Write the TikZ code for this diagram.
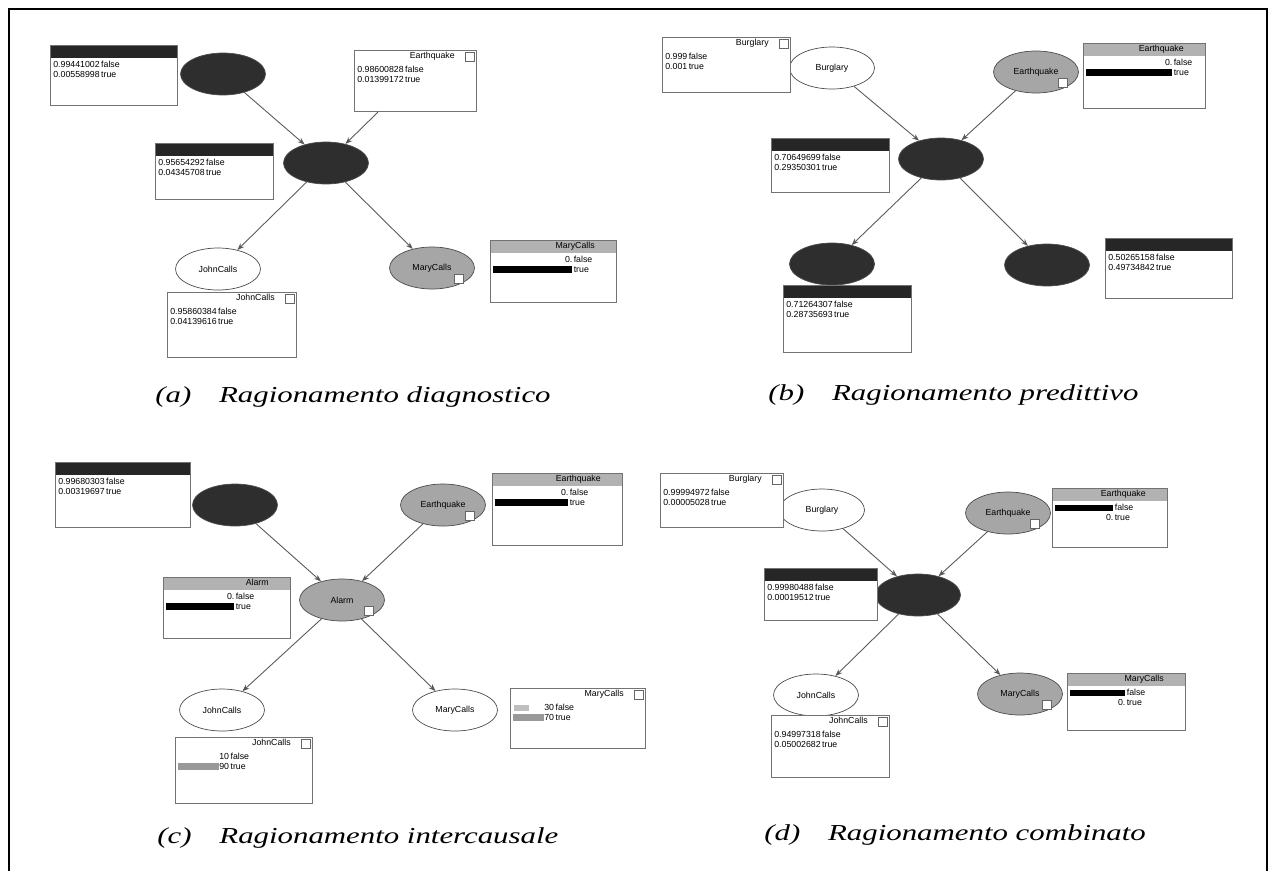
\documentclass[tikz,border=0pt]{standalone}
\usepackage{fontspec}
\setmainfont{Liberation Serif}
\setsansfont{Liberation Sans}
\usetikzlibrary{shapes.geometric,arrows.meta}

% probability table rows and bars
\newcommand{\pvals}[4]{\begin{tabular}{@{}r@{\,}l@{}}#1&#2\\#3&#4\end{tabular}}
\newcommand{\pbar}[1]{\rule[-0.4pt]{#1}{3.6pt}}

\tikzset{
  dagnode/.style={ellipse, draw=black!70, minimum width=1.7cm, minimum height=0.84cm, inner sep=0pt, font=\fontsize{5}{6}\sffamily},
  hidnode/.style={dagnode, fill=black!82},
  obsnode/.style={dagnode, fill=black!35},
  freenode/.style={dagnode, fill=white},
  pbox/.style n args={3}{draw=black!55, fill=white, line width=0.6pt, anchor=north west, inner sep=0pt,
    minimum width=#1*0.02cm, minimum height=#2*0.02cm,
    path picture={\fill[#3] (path picture bounding box.north west) rectangle ([yshift=-0.24cm]path picture bounding box.north east);}},
  rows/.style={anchor=north west, inner sep=0pt, font=\fontsize{5}{5.6}\sffamily},
  boxtitle/.style={anchor=north east, inner sep=0pt, font=\fontsize{5}{6}\sffamily},
  icon/.style={draw=black!60, fill=white, minimum size=0.18cm, inner sep=0pt},
  link/.style={draw=black!65, line width=0.5pt, -{Stealth[length=4pt,width=3pt]}},
  capt/.style={anchor=west, inner sep=0pt, xscale=1.35, font=\fontsize{13}{15}\selectfont\itshape}
}

\begin{document}
\begin{tikzpicture}[x=0.02cm,y=-0.02cm]
\fill[white] (0,0) rectangle (1276,870);
\useasboundingbox (0,0) rectangle (1276,870);

% frame
\draw[line width=1.3pt] (9,875) -- (9,9) -- (1267,9) -- (1267,875);

% (a) diagnostic
\node[hidnode] (aB) at (223,74) {};
\node[hidnode] (aA) at (326,163) {};
\node[freenode] (aJ) at (218,269) {JohnCalls};
\node[obsnode] (aM) at (432,268) {MaryCalls};
\node[icon] (aMicon) at ([shift={(-3,-4)}]aM.south east) {};

\node[pbox={127}{60}{black!85}] (aBbox) at (50,45) {};
\node[rows] (aBrows) at ([shift={(3,15)}]aBbox.north west) {\pvals{0.99441002}{false}{0.00558998}{true}};
\node[pbox={122}{61}{white}] (aEbox) at (354,50) {};
\node[icon] (aEicon) at ([shift={(-7,7)}]aEbox.north east) {};
\node[boxtitle] (aEtitle) at ([shift={(-22,2)}]aEbox.north east) {Earthquake};
\node[rows] (aErows) at ([shift={(3,15)}]aEbox.north west) {\pvals{0.98600828}{false}{0.01399172}{true}};
\node[pbox={118}{56}{black!85}] (aAbox) at (155,143) {};
\node[rows] (aArows) at ([shift={(3,15)}]aAbox.north west) {\pvals{0.95654292}{false}{0.04345708}{true}};
\node[pbox={129}{65}{white}] (aJbox) at (167,292) {};
\node[icon] (aJicon) at ([shift={(-7,7)}]aJbox.north east) {};
\node[boxtitle] (aJtitle) at ([shift={(-22,2)}]aJbox.north east) {JohnCalls};
\node[rows] (aJrows) at ([shift={(3,15)}]aJbox.north west) {\pvals{0.95860384}{false}{0.04139616}{true}};
\node[pbox={126}{62}{black!30}] (aMbox) at (490,240) {};
\node[boxtitle] (aMtitle) at ([shift={(-22,2)}]aMbox.north east) {MaryCalls};
\node[rows] (aMrows) at ([shift={(3,15)}]aMbox.north west) {\pvals{0.}{false}{\pbar{1.58cm}}{true}};

\draw[link] (aB) -- (aA);
\draw[link] ([xshift=0.48cm]aEbox.south west) -- (aA);
\draw[link] (aA) -- (aJ);
\draw[link] (aA) -- (aM);

\node[capt] (acap) at (155,397) {(a)\hspace{0.9em}Ragionamento diagnostico};

% (b) predictive
\node[freenode] (bB) at (832,68) {Burglary};
\node[obsnode] (bE) at (1036,72) {Earthquake};
\node[icon] (bEicon) at ([shift={(-3,-4)}]bE.south east) {};
\node[hidnode] (bA) at (941,159) {};
\node[hidnode] (bJ) at (832,264) {};
\node[hidnode] (bM) at (1047,265) {};

\node[pbox={128}{55}{white}] (bBbox) at (662,37) {};
\node[icon] (bBicon) at ([shift={(-7,7)}]bBbox.north east) {};
\node[boxtitle] (bBtitle) at ([shift={(-22,2)}]bBbox.north east) {Burglary};
\node[rows] (bBrows) at ([shift={(3,15)}]bBbox.north west) {\pvals{0.999}{false}{0.001}{true}};
\node[pbox={122}{65}{black!30}] (bEbox) at (1083,43) {};
\node[boxtitle] (bEtitle) at ([shift={(-22,2)}]bEbox.north east) {Earthquake};
\node[rows] (bErows) at ([shift={(3,15)}]bEbox.north west) {\pvals{0.}{false}{\pbar{1.72cm}}{true}};
\node[pbox={118}{54}{black!85}] (bAbox) at (771,138) {};
\node[rows] (bArows) at ([shift={(3,15)}]bAbox.north west) {\pvals{0.70649699}{false}{0.29350301}{true}};
\node[pbox={128}{67}{black!85}] (bJbox) at (783,285) {};
\node[rows] (bJrows) at ([shift={(3,15)}]bJbox.north west) {\pvals{0.71264307}{false}{0.28735693}{true}};
\node[pbox={127}{60}{black!85}] (bMbox) at (1105,238) {};
\node[rows] (bMrows) at ([shift={(3,15)}]bMbox.north west) {\pvals{0.50265158}{false}{0.49734842}{true}};

\draw[link] (bB) -- (bA);
\draw[link] (bE) -- (bA);
\draw[link] (bA) -- (bJ);
\draw[link] (bA) -- (bM);

\node[capt] (bcap) at (768,395) {(b)\hspace{0.9em}Ragionamento predittivo};

% (c) intercausal
\node[hidnode] (cB) at (235,505) {};
\node[obsnode] (cE) at (443,505) {Earthquake};
\node[icon] (cEicon) at ([shift={(-3,-4)}]cE.south east) {};
\node[obsnode] (cA) at (342,600) {Alarm};
\node[icon] (cAicon) at ([shift={(-3,-4)}]cA.south east) {};
\node[freenode] (cJ) at (222,710) {JohnCalls};
\node[freenode] (cM) at (455,710) {MaryCalls};

\node[pbox={135}{65}{black!85}] (cBbox) at (55,462) {};
\node[rows] (cBrows) at ([shift={(3,15)}]cBbox.north west) {\pvals{0.99680303}{false}{0.00319697}{true}};
\node[pbox={130}{72}{black!30}] (cEbox) at (492,473) {};
\node[boxtitle] (cEtitle) at ([shift={(-22,2)}]cEbox.north east) {Earthquake};
\node[rows] (cErows) at ([shift={(3,15)}]cEbox.north west) {\pvals{0.}{false}{\pbar{1.46cm}}{true}};
\node[pbox={127}{61}{black!30}] (cAbox) at (163,577) {};
\node[boxtitle] (cAtitle) at ([shift={(-22,2)}]cAbox.north east) {Alarm};
\node[rows] (cArows) at ([shift={(3,15)}]cAbox.north west) {\pvals{0.}{false}{\pbar{1.36cm}}{true}};
\node[pbox={137}{66}{white}] (cJbox) at (175,737) {};
\node[icon] (cJicon) at ([shift={(-7,7)}]cJbox.north east) {};
\node[boxtitle] (cJtitle) at ([shift={(-22,2)}]cJbox.north east) {JohnCalls};
\node[rows] (cJrows) at ([shift={(3,15)}]cJbox.north west) {\pvals{10}{false}{{\color{black!40}\pbar{0.82cm}}90}{true}};
\node[pbox={135}{60}{white}] (cMbox) at (510,688) {};
\node[icon] (cMicon) at ([shift={(-7,7)}]cMbox.north east) {};
\node[boxtitle] (cMtitle) at ([shift={(-22,2)}]cMbox.north east) {MaryCalls};
\node[rows] (cMrows) at ([shift={(3,15)}]cMbox.north west) {\pvals{{\color{black!25}\pbar{0.3cm}}\hspace{0.3cm}30}{false}{{\color{black!40}\pbar{0.62cm}}70}{true}};

\draw[link] (cB) -- (cA);
\draw[link] (cE) -- (cA);
\draw[link] (cA) -- (cJ);
\draw[link] (cA) -- (cM);

\node[capt] (ccap) at (157,838) {(c)\hspace{0.9em}Ragionamento intercausale};

% (d) combined
\node[freenode] (dB) at (822,510) {Burglary};
\node[obsnode] (dE) at (1008,513) {Earthquake};
\node[icon] (dEicon) at ([shift={(-3,-4)}]dE.south east) {};
\node[hidnode] (dA) at (918,595) {};
\node[freenode] (dJ) at (816,695) {JohnCalls};
\node[obsnode] (dM) at (1020,694) {MaryCalls};
\node[icon] (dMicon) at ([shift={(-3,-4)}]dM.south east) {};

\node[pbox={123}{54}{white}] (dBbox) at (660,473) {};
\node[icon] (dBicon) at ([shift={(-7,7)}]dBbox.north east) {};
\node[boxtitle] (dBtitle) at ([shift={(-22,2)}]dBbox.north east) {Burglary};
\node[rows] (dBrows) at ([shift={(3,15)}]dBbox.north west) {\pvals{0.99994972}{false}{0.00005028}{true}};
\node[pbox={115}{59}{black!30}] (dEbox) at (1052,488) {};
\node[boxtitle] (dEtitle) at ([shift={(-22,2)}]dEbox.north east) {Earthquake};
\node[rows] (dErows) at ([shift={(3,15)}]dEbox.north west) {\pvals{\pbar{1.16cm}}{false}{0.}{true}};
\node[pbox={113}{52}{black!85}] (dAbox) at (764,568) {};
\node[rows] (dArows) at ([shift={(3,15)}]dAbox.north west) {\pvals{0.99980488}{false}{0.00019512}{true}};
\node[pbox={118}{62}{white}] (dJbox) at (771,715) {};
\node[icon] (dJicon) at ([shift={(-7,7)}]dJbox.north east) {};
\node[boxtitle] (dJtitle) at ([shift={(-22,2)}]dJbox.north east) {JohnCalls};
\node[rows] (dJrows) at ([shift={(3,15)}]dJbox.north west) {\pvals{0.94997318}{false}{0.05002682}{true}};
\node[pbox={118}{57}{black!30}] (dMbox) at (1067,673) {};
\node[boxtitle] (dMtitle) at ([shift={(-22,2)}]dMbox.north east) {MaryCalls};
\node[rows] (dMrows) at ([shift={(3,15)}]dMbox.north west) {\pvals{\pbar{1.1cm}}{false}{0.}{true}};

\draw[link] (dB) -- (dA);
\draw[link] (dE) -- (dA);
\draw[link] (dA) -- (dJ);
\draw[link] (dA) -- (dM);

\node[capt] (dcap) at (764,835) {(d)\hspace{0.9em}Ragionamento combinato};

\end{tikzpicture}
\end{document}
